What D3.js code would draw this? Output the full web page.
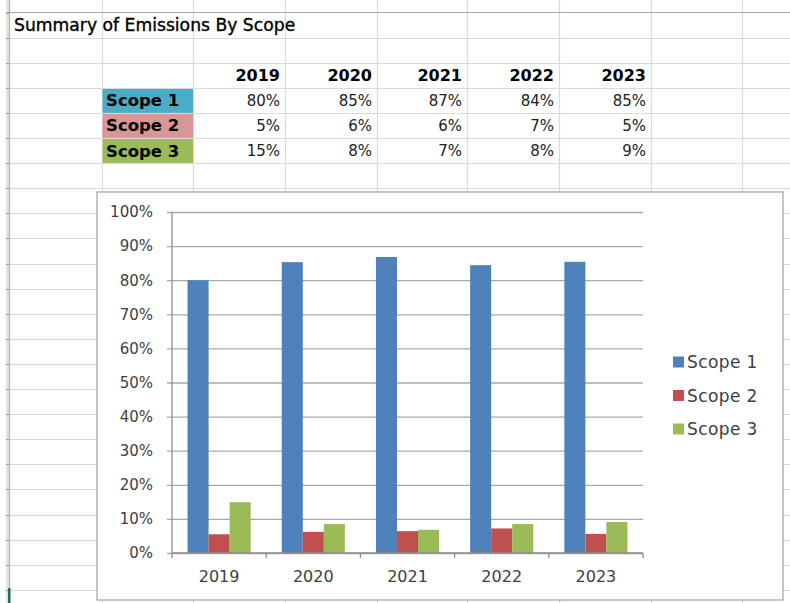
<!DOCTYPE html>
<html>
<head>
<meta charset="utf-8">
<script src="https://cdn.jsdelivr.net/npm/d3@7"></script>
<style>
  html, body { margin: 0; padding: 0; background: #fff; }
  svg { display: block; }
  text { font-family: "DejaVu Sans", sans-serif; }
</style>
</head>
<body>
<svg id="chart" width="790" height="603"></svg>
<script>
// ---- data ----
const years = ["2019", "2020", "2021", "2022", "2023"];
const seriesNames = ["Scope 1", "Scope 2", "Scope 3"];
// values plotted in the chart (percent)
const scope1 = [80.0, 85.3, 86.8, 84.4, 85.4];
const scope2 = [5.5, 6.2, 6.4, 7.2, 5.6];
const scope3 = [14.9, 8.5, 6.8, 8.5, 9.1];
// values shown in the spreadsheet table
const tableScope1 = ["80%", "85%", "87%", "84%", "85%"];
const tableScope2 = ["5%", "6%", "6%", "7%", "5%"];
const tableScope3 = ["15%", "8%", "7%", "8%", "9%"];
const yTicks = [0, 10, 20, 30, 40, 50, 60, 70, 80, 90, 100];
const title = "Summary of Emissions By Scope";

const barColors = ["#4F81BD", "#C0504D", "#9BBB59"];
const cellColors = ["#4BACC6", "#DA9694", "#9BBB59"];

const svg = d3.select("#chart");

// ---- spreadsheet grid ----
const colEdges = [7, 102, 193, 285, 377, 467, 559, 651, 742];
const rowTop = 12.5, rowH = 25.1;
const rowEdges = d3.range(0, 24).map(i => rowTop + i * rowH);
const grid = svg.append("g");
grid.append("rect").attr("x", 6).attr("y", 0).attr("width", 3).attr("height", 603).attr("fill", "#e4e4e4");
grid.append("line").attr("x1", 9.5).attr("x2", 9.5).attr("y1", 0).attr("y2", 603).attr("stroke", "#b4b4b4").attr("stroke-width", 1.2);
grid.selectAll("line.row").data(rowEdges.slice(1)).join("line")
  .attr("class", "row")
  .attr("x1", 10).attr("x2", 790).attr("y1", d => Math.round(d) + 0.5).attr("y2", d => Math.round(d) + 0.5)
  .attr("stroke", "#dadada").attr("stroke-width", 1.2);
grid.selectAll("line.rtick").data(rowEdges).join("line")
  .attr("class", "rtick")
  .attr("x1", 6).attr("x2", 9).attr("y1", d => Math.round(d) + 0.5).attr("y2", d => Math.round(d) + 0.5)
  .attr("stroke", "#9a9a9a").attr("stroke-width", 1);
grid.selectAll("line.col").data(colEdges.slice(1)).join("line")
  .attr("class", "col")
  .attr("x1", d => d + 0.5).attr("x2", d => d + 0.5).attr("y1", 0).attr("y2", 603)
  .attr("stroke", "#dadada").attr("stroke-width", 1.2);
grid.append("line").attr("x1", 7).attr("x2", 790).attr("y1", 12.5).attr("y2", 12.5)
  .attr("stroke", "#a8a8a8").attr("stroke-width", 1.2);
grid.append("rect").attr("x", 8).attr("y", 588).attr("width", 2.5).attr("height", 15).attr("fill", "#217346");

// ---- table ----
const tbl = svg.append("g");
tbl.append("text").attr("x", 14).attr("y", 31).attr("font-size", 17.2).attr("fill", "#000")
  .attr("stroke", "#000").attr("stroke-width", 0.35).text(title);

const valCols = colEdges.slice(3, 8); // right edges of the year columns
const rowCenter = i => rowEdges[i] + rowH / 2;
tbl.selectAll("text.year").data(years).join("text")
  .attr("class", "year")
  .attr("x", (d, i) => valCols[i] - 5).attr("y", rowCenter(2) + 6)
  .attr("text-anchor", "end").attr("font-size", 16).attr("font-weight", "bold").attr("fill", "#000")
  .text(d => d);

const tableRows = [tableScope1, tableScope2, tableScope3];
seriesNames.forEach((name, r) => {
  const y0 = rowEdges[3 + r];
  tbl.append("rect").attr("x", colEdges[1] + 0.5).attr("y", Math.round(y0) + 1)
    .attr("width", colEdges[2] - colEdges[1] - 0.5).attr("height", rowH - 1.2)
    .attr("fill", cellColors[r]);
  tbl.append("text").attr("x", colEdges[1] + 4).attr("y", y0 + rowH / 2 + 6)
    .attr("font-size", 16.5).attr("font-weight", "bold").attr("fill", "#000").text(name);
  tbl.selectAll("text.v" + r).data(tableRows[r]).join("text")
    .attr("class", "v" + r)
    .attr("x", (d, i) => valCols[i] - 5).attr("y", y0 + rowH / 2 + 5.5)
    .attr("text-anchor", "end").attr("font-size", 15).attr("fill", "#222")
    .text(d => d);
});

// ---- chart box ----
svg.append("rect").attr("x", 97).attr("y", 192).attr("width", 686).attr("height", 408)
  .attr("fill", "#fff").attr("stroke", "#a6a6a6").attr("stroke-width", 1.3);

const plot = { left: 172, right: 643, top: 212, bottom: 553 };
const x0 = d3.scaleBand().domain(years).range([plot.left, plot.right]).paddingInner(0).paddingOuter(0);
const groupW = x0.bandwidth() * 0.67;
const x1 = d3.scaleBand().domain(seriesNames).range([0, groupW]).padding(0);
const y = d3.scaleLinear().domain([0, 100]).range([plot.bottom, plot.top]);

// y axis with gridlines
const yAxis = d3.axisLeft(y).tickValues(yTicks).tickFormat(d => d + "%")
  .tickSizeInner(-(plot.right - plot.left)).tickSizeOuter(0).tickPadding(19);
const gy = svg.append("g").attr("transform", `translate(${plot.left},0)`).call(yAxis);
gy.select(".domain").remove();
gy.selectAll(".tick line").attr("x1", -5).attr("stroke", "#a9a9a9").attr("stroke-width", 1.3);
gy.selectAll(".tick text").attr("font-family", "DejaVu Sans, sans-serif").attr("font-size", 15).attr("fill", "#404040");
svg.append("line").attr("x1", plot.left).attr("x2", plot.left).attr("y1", plot.top).attr("y2", plot.bottom)
  .attr("stroke", "#8c8c8c").attr("stroke-width", 1.3);

// bars
const series = [scope1, scope2, scope3];
const groups = svg.append("g").selectAll("g").data(years).join("g")
  .attr("transform", d => `translate(${x0(d) + (x0.bandwidth() - groupW) / 2},0)`);
groups.selectAll("rect").data((d, i) => seriesNames.map((s, k) => ({ s, v: series[k][i], k })))
  .join("rect")
  .attr("x", d => x1(d.s)).attr("width", x1.bandwidth())
  .attr("y", d => y(d.v)).attr("height", d => y(0) - y(d.v))
  .attr("fill", d => barColors[d.k]);

// x axis
const xAxis = d3.axisBottom(x0).tickSize(0).tickPadding(18);
const gx = svg.append("g").attr("transform", `translate(0,${plot.bottom})`).call(xAxis);
gx.select(".domain").remove();
gx.selectAll(".tick text").attr("font-family", "DejaVu Sans, sans-serif").attr("font-size", 16).attr("fill", "#404040");
svg.append("line").attr("x1", plot.left).attr("x2", plot.right).attr("y1", plot.bottom).attr("y2", plot.bottom)
  .attr("stroke", "#8c8c8c").attr("stroke-width", 1.3);
const boundaries = years.map(d => x0(d)).concat([plot.right]);
svg.selectAll("line.xb").data(boundaries).join("line").attr("class", "xb")
  .attr("x1", d => d).attr("x2", d => d).attr("y1", plot.bottom).attr("y2", plot.bottom + 5)
  .attr("stroke", "#8c8c8c").attr("stroke-width", 1.3);

// legend
const legend = svg.append("g").attr("transform", "translate(673,362)");
const li = legend.selectAll("g").data(seriesNames).join("g")
  .attr("transform", (d, i) => `translate(0,${i * 33.5})`);
li.append("rect").attr("x", 0).attr("y", -5.5).attr("width", 11).attr("height", 11)
  .attr("fill", (d, i) => barColors[i]);
li.append("text").attr("x", 14).attr("y", 0).attr("dy", "0.36em")
  .attr("font-size", 17).attr("letter-spacing", 0.4).attr("fill", "#404040").text(d => d);
</script>
</body>
</html>
